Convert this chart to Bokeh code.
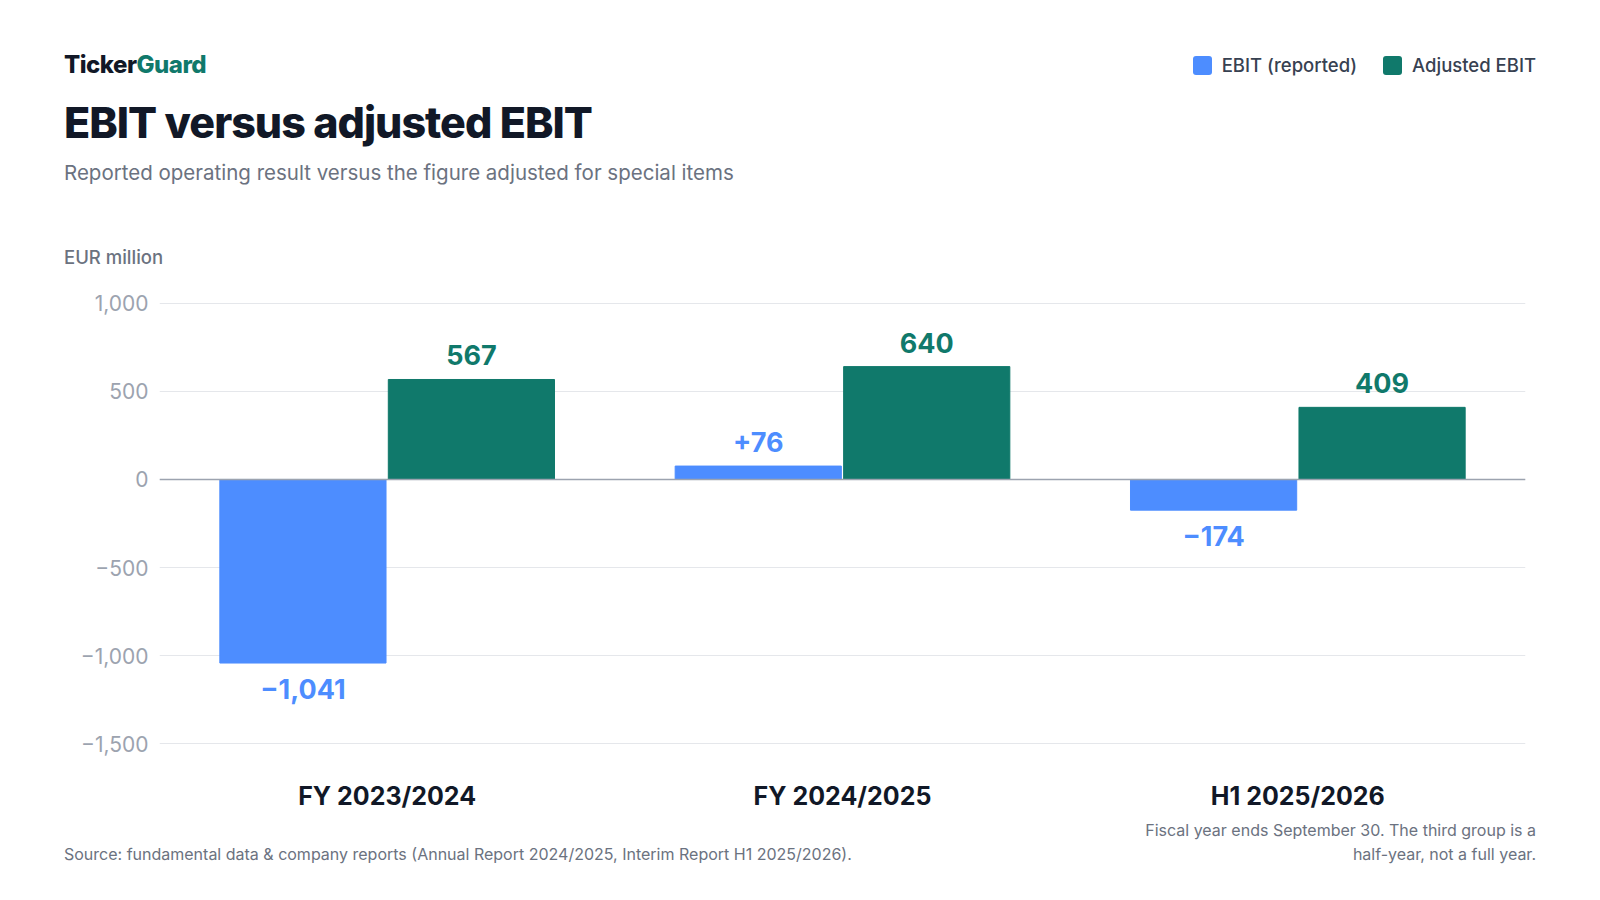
from bokeh.plotting import figure
from bokeh.layouts import column
from bokeh.models import Div, ColumnDataSource, FactorRange, Span, CustomJSTickFormatter, FixedTicker
from bokeh.core.properties import value
from bokeh.transform import dodge
from bokeh.embed import file_html
from bokeh.resources import INLINE

periods = ["FY 2023/2024", "FY 2024/2025", "H1 2025/2026"]
ebit = [-1041, 76, -174]
adj = [567, 640, 409]
ebit_lbl = ["\u22121,041", "+76", "\u2212174"]
adj_lbl = ["567", "640", "409"]
ticks = [-1500, -1000, -500, 0, 500, 1000]

BLUE = "#4D8DFF"; GREEN = "#10796B"; DARK = "#111827"; GREY = "#6B7280"
F = "Inter"
W = 1472

src = ColumnDataSource(dict(p=periods, e=ebit, a=adj, el=ebit_lbl, al=adj_lbl,
    eo=[26 if v < 0 else -24 for v in ebit]))

header = Div(width=W, height=235, text=f"""
<div style="font-family:{F};position:relative;width:{W}px;height:235px">
 <div style="position:absolute;left:0;top:43px;font-size:24px;font-weight:800;color:{DARK};letter-spacing:-0.5px">Ticker<span style="color:{GREEN}">Guard</span></div>
 <div style="position:absolute;right:0;top:47px;font-size:18.5px;color:#374151;font-weight:500;display:flex;gap:26px;align-items:center">
  <span style="display:flex;align-items:center;gap:10px"><span style="width:19px;height:19px;background:{BLUE};border-radius:3px;display:inline-block"></span>EBIT (reported)</span>
  <span style="display:flex;align-items:center;gap:10px"><span style="width:19px;height:19px;background:{GREEN};border-radius:3px;display:inline-block"></span>Adjusted EBIT</span>
 </div>
 <div style="position:absolute;left:0;top:87px;font-size:43px;font-weight:800;color:{DARK};letter-spacing:-1px">EBIT versus adjusted EBIT</div>
 <div style="position:absolute;left:0;top:153px;font-size:20.5px;color:{GREY}">Reported operating result versus the figure adjusted for special items</div>
</div>""")
unit = Div(width=300, height=20, text=f'<div style="font-family:{F};font-size:18.5px;color:{GREY};font-weight:500;margin-top:-6px">EUR million</div>')

p = figure(x_range=FactorRange(*periods), y_range=(-1605, 1100), frame_width=1366, frame_height=477,
           output_backend="svg", toolbar_location=None, min_border_left=100, min_border_right=5,
           min_border_top=10, min_border_bottom=10)
p.vbar(x=dodge("p", -0.185, range=p.x_range), top="e", bottom=0, width=0.365, source=src, color=BLUE)
p.vbar(x=dodge("p", 0.185, range=p.x_range), top="a", bottom=0, width=0.365, source=src, color=GREEN)
p.text(x=dodge("p", -0.185, range=p.x_range), y="e", y_offset="eo", text="el", source=src, text_color=BLUE,
       text_font=value(F), text_font_style="bold", text_font_size="27px", text_align="center",
       text_baseline="middle")
p.text(x=dodge("p", 0.185, range=p.x_range), y="a", y_offset=-24, text="al", source=src, text_color=GREEN,
       text_font=value(F), text_font_style="bold", text_font_size="27px", text_align="center",
       text_baseline="middle")
p.add_layout(Span(location=0, dimension="width", line_color="#9CA3AF", line_width=1.5))
p.outline_line_color = None
p.xgrid.grid_line_color = None
p.ygrid.grid_line_color = "#E5E7EB"
p.yaxis.ticker = FixedTicker(ticks=ticks)
p.yaxis.formatter = CustomJSTickFormatter(code="var s=Math.abs(tick).toLocaleString('en-US'); return tick<0?'\u2212'+s:s;")
for ax in (p.xaxis, p.yaxis):
    ax.axis_line_color = None
    ax.major_tick_line_color = None
    ax.minor_tick_line_color = None
p.yaxis.major_label_text_font = F
p.yaxis.major_label_text_font_size = "21px"
p.yaxis.major_label_text_color = "#9CA3AF"
p.xaxis.major_label_text_font = F
p.xaxis.major_label_text_font_size = "25px"
p.xaxis.major_label_text_font_style = "bold"
p.xaxis.major_label_text_color = DARK
p.xaxis.major_label_standoff = 12

footer = Div(width=W, height=60, text=f"""
<div style="font-family:{F};position:relative;width:{W}px;height:60px;font-size:16px;color:{GREY}">
 <div style="position:absolute;right:0;top:0;text-align:right;line-height:24px">Fiscal year ends September 30. The third group is a<br>half-year, not a full year.</div>
 <div style="position:absolute;left:0;top:24px;line-height:24px">Source: fundamental data &amp; company reports (Annual Report 2024/2025, Interim Report H1 2025/2026).</div>
</div>""")

layout = column(header, unit, p, footer, styles={"margin-left": "59px"}, spacing=0)
open("out.html", "w").write(file_html(layout, INLINE))
